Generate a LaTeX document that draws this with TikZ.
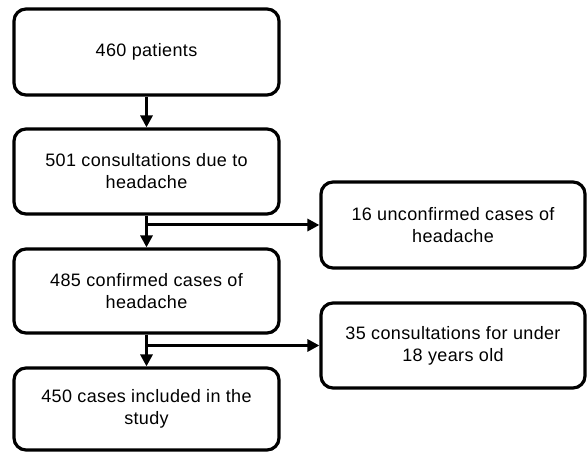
\documentclass[tikz,border=0pt]{standalone}
\usepackage{fontspec}
\setmainfont[LetterSpace=2]{Liberation Sans}
\usetikzlibrary{arrows.meta}
\tikzset{
  box/.style={draw=black, rectangle, rounded corners=12pt, line width=3.2pt,
    minimum width=265pt, inner sep=0pt, align=center,
    font=\fontsize{18}{22}\selectfont},
  conn/.style={line width=3pt, -{Triangle[length=12pt,width=12pt]}}
}
\begin{document}
\begin{tikzpicture}[x=1pt,y=-1pt]
\useasboundingbox (0,0) rectangle (587,454);
\node[box, minimum height=86pt] (b1) at (146.5,52) {\raisebox{-5pt}{460 patients}};
\node[box, minimum height=85pt] (b2) at (146.5,171.5) {501 consultations due to\\headache};
\node[box, minimum height=84pt] (b3) at (146.5,291) {485 confirmed cases of\\headache};
\node[box, minimum height=82pt] (b4) at (146.5,409) {450 cases included in the\\study};
\node[box, minimum width=264pt, minimum height=86pt] (r1) at (453,225) {16 unconfirmed cases of\\headache};
\node[box, minimum width=264pt, minimum height=85pt] (r2) at (453,345.5) {35 consultations for under\\18 years old};
\coordinate (j1) at (b2.south |- r1.west);
\coordinate (j2) at (b3.south |- r2.west);
\draw[conn] (b1.south) -- (b2.north);
\draw[conn] (b2.south) -- (b3.north);
\draw[conn] (b3.south) -- (b4.north);
\draw[conn] ([xshift=-1.5pt]j1) -- (r1.west);
\draw[conn] ([xshift=-1.5pt]j2) -- (r2.west);
\end{tikzpicture}
\end{document}
